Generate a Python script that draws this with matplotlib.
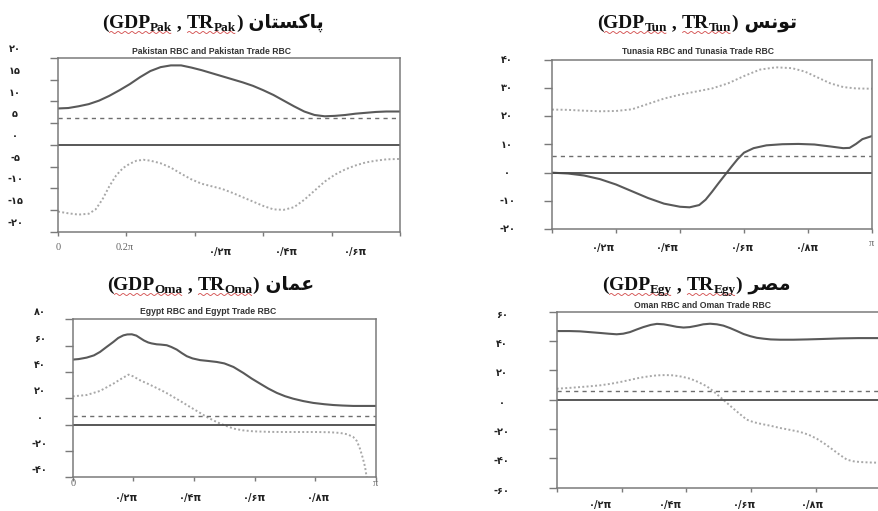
import numpy as np
import matplotlib
matplotlib.use("Agg")
import matplotlib.pyplot as plt
from matplotlib.transforms import IdentityTransform
from matplotlib.lines import Line2D

W, H = 879, 511
PI = np.pi

# --- Pakistan ---------------------------------------------------------------
pak_gdp_x = [0, .03, .06, .09, .12, .15, .18, .21, .24, .27, .30, .33, .36, .39, .42, .45, .48,
             .51, .54, .57, .60, .63, .66, .69, .72, .75, .78, .81, .84, .87, .90, .93, .96, 1.0]
pak_gdp = [8.4, 8.5, 8.9, 9.4, 10.2, 11.3, 12.6, 14.0, 15.6, 17.0, 17.9, 18.3, 18.3, 17.8, 17.2,
           16.5, 15.8, 15.1, 14.4, 13.6, 12.6, 11.5, 10.2, 8.9, 7.7, 6.9, 6.6, 6.7, 6.9, 7.2, 7.4,
           7.6, 7.7, 7.7]
pak_tr_x = [0, .03, .06, .09, .11, .13, .15, .17, .19, .21, .23, .25, .27, .30, .33, .36, .39, .42,
            .45, .48, .51, .54, .57, .60, .63, .66, .69, .72, .75, .78, .81, .84, .87, .90, .93, .96, 1.0]
pak_tr = [-15.3, -15.7, -16.0, -15.8, -14.8, -12.5, -9.5, -7.0, -5.3, -4.3, -3.6, -3.4, -3.6, -4.2,
          -5.2, -6.6, -7.9, -8.9, -9.5, -10.1, -11.0, -12.0, -13.0, -14.0, -14.8, -14.9, -14.3,
          -12.6, -10.5, -8.4, -6.8, -5.6, -4.7, -4.0, -3.6, -3.3, -3.2]
pak_dash = 6.1
pak_yticks = [20, 15, 10, 5, 0, -5, -10, -15, -20]
pak_ylabels = ["۲۰", "۱۵", "۱۰", "۵", "۰", "-۵", "-۱۰", "-۱۵", "-۲۰"]

# --- Tunisia ----------------------------------------------------------------
tun_gdp_x = [0, .05, .10, .15, .20, .25, .30, .35, .40, .43, .46, .48, .50, .52, .54, .56, .58,
             .60, .63, .67, .72, .77, .82, .87, .91, .93, .95, .97, 1.0]
tun_gdp = [0, -0.3, -1.0, -2.3, -4.2, -6.6, -9.0, -11.0, -12.1, -12.3, -11.5, -9.6, -6.8, -3.8,
           -0.9, 2.0, 4.8, 7.1, 8.7, 9.7, 10.1, 10.2, 10.0, 9.3, 8.7, 8.8, 10.2, 11.9, 13.0]
tun_tr_x = [0, .05, .10, .15, .20, .25, .30, .35, .40, .45, .50, .55, .60, .65, .70, .75, .79,
            .83, .87, .91, .95, 1.0]
tun_tr = [22.4, 22.3, 22.0, 21.8, 21.9, 22.5, 24.4, 26.3, 27.7, 28.8, 29.9, 31.7, 34.3, 36.6,
          37.4, 37.1, 35.9, 33.8, 31.7, 30.4, 29.9, 29.8]
tun_dash = 6.0
tun_yticks = [40, 30, 20, 10, 0, -10, -20]
tun_ylabels = ["۴۰", "۳۰", "۲۰", "۱۰", "۰", "-۱۰", "-۲۰"]

# --- Egypt ------------------------------------------------------------------
egy_gdp_x = [0, .02, .046, .07, .09, .11, .134, .15, .167, .18, .195, .21, .222, .235, .249, .26,
             .277, .29, .31, .325, .343, .36, .376, .395, .42, .445, .475, .50, .53, .563, .59,
             .618, .645, .673, .70, .727, .76, .793, .83, .859, .89, .925, .96, 1.0]
egy_gdp = [49.4, 49.8, 50.9, 52.6, 55.2, 58.7, 62.8, 65.8, 67.8, 68.5, 68.6, 67.6, 65.8, 63.9,
           62.4, 61.7, 61.0, 60.8, 60.3, 59.0, 57.0, 54.3, 52.0, 50.3, 49.0, 48.4, 47.6, 46.5,
           43.8, 39.2, 35.0, 31.1, 27.4, 24.1, 21.6, 19.7, 17.9, 16.5, 15.5, 14.9, 14.5, 14.2,
           14.2, 14.2]
egy_tr_x = [0, .046, .09, .134, .16, .184, .20, .222, .25, .277, .305, .332, .36, .387, .415,
            .442, .465, .486, .51, .53, .56, .596, .65, .695, .75, .804, .85, .881, .905, .925,
            .937, .947, .956, .964, .969, .975]
egy_tr = [21.5, 22.5, 25.6, 31.1, 34.8, 38.0, 36.6, 33.7, 30.8, 27.8, 24.6, 21.0, 17.2, 13.4,
          9.6, 5.8, 3.1, 0.8, -1.3, -3.0, -4.3, -5.1, -5.5, -5.6, -5.6, -5.6, -5.8, -6.3, -7.3,
          -9.4, -12.5, -18.2, -25.0, -32.2, -39.7, -44.0]
egy_dash = 6.3
egy_yticks = [80, 60, 40, 20, 0, -20, -40]
egy_ylabels = ["۸۰", "۶۰", "۴۰", "۲۰", "۰", "-۲۰", "-۴۰"]

# --- Oman -------------------------------------------------------------------
oma_gdp_x = [0, .04, .072, .10, .134, .16, .185, .205, .226, .247, .267, .29, .309, .33, .35,
             .37, .391, .41, .432, .452, .473, .494, .514, .535, .556, .576, .597, .617, .638,
             .66, .689, .73, .772, .82, .874, .93, 1.0]
oma_gdp = [46.8, 46.8, 46.6, 46.1, 45.5, 45.0, 44.6, 45.0, 46.1, 47.9, 49.5, 51.0, 51.7, 51.4,
           50.6, 49.7, 49.2, 49.5, 50.4, 51.4, 51.8, 51.4, 50.5, 48.8, 46.8, 44.8, 43.3, 42.2,
           41.6, 41.1, 40.9, 40.9, 41.1, 41.4, 41.8, 42.0, 42.0]
oma_tr_x = [0, .036, .072, .10, .134, .165, .195, .226, .257, .283, .309, .335, .36, .386, .412,
            .437, .463, .484, .504, .525, .545, .566, .586, .607, .628, .66, .689, .72, .751,
            .777, .802, .828, .854, .875, .895, .915, .936, .965, 1.0]
oma_tr = [7.5, 8.0, 8.6, 9.1, 9.8, 10.8, 12.0, 13.5, 15.0, 15.9, 16.6, 16.8, 16.6, 15.7, 14.3,
          12.0, 9.1, 5.6, 1.8, -2.2, -6.1, -10.0, -13.6, -15.3, -16.4, -17.8, -19.3, -20.6, -22.0,
          -23.9, -26.6, -30.3, -34.5, -37.9, -40.9, -42.0, -42.5, -42.8, -43.0]
oma_dash = 5.7
oma_yticks = [60, 40, 20, 0, -20, -40, -60]
oma_ylabels = ["۶۰", "۴۰", "۲۰", "۰", "-۲۰", "-۴۰", "-۶۰"]

fig = plt.figure(figsize=(W / 100, H / 100), dpi=100)
fig.patch.set_facecolor("white")

SPINE = "#7a7a7a"
FA = ["DejaVu Sans"]


def add_axes_px(left, top, right, bottom):
    return fig.add_axes([left / W, 1 - bottom / H, (right - left) / W, (bottom - top) / H])


def draw_panel(ax, gx, gy, tx, ty, dash, ylim, yticks, ylabels, lab_dx, lab_dy):
    ax.plot(np.array(tx) * PI, ty, color="#a8a8a8", lw=1.4, ls=(0, (1, 1.2)))
    ax.plot(np.array(gx) * PI, gy, color="#595959", lw=1.5)
    ax.axhline(dash, color="#6e6e6e", lw=1.0, ls=(0, (3, 3)))
    ax.axhline(0, color="#4a4a4a", lw=1.3)
    ax.set_xlim(0, PI)
    ax.set_ylim(*ylim)
    ax.set_xticks(np.arange(6) * 0.2 * PI, labels=[])
    ax.set_yticks(yticks, labels=[])
    ax.tick_params(axis="y", direction="out", length=6, width=1, color=SPINE)
    ax.tick_params(axis="x", direction="out", length=3, width=1, color=SPINE)
    for s in ax.spines.values():
        s.set_color(SPINE)
        s.set_linewidth(1.1)
    for v, lab in zip(yticks, ylabels):
        ax.annotate(lab, xy=(0, v), xycoords=("axes fraction", "data"),
                    xytext=(-lab_dx, lab_dy), textcoords="offset pixels",
                    ha="center", va="center", fontsize=7, fontweight="bold",
                    color="#222222", family=FA)


def x_labels(ax, fracs, labels, dy, serif=False, color="#222222"):
    for f, lab in zip(fracs, labels):
        ax.annotate(lab, xy=(f * PI, 0), xycoords=("data", "axes fraction"),
                    xytext=(0, -dy), textcoords="offset pixels", ha="center", va="center",
                    fontsize=7.5 if serif else 7, color=color,
                    fontweight="normal" if serif else "bold",
                    family=["Liberation Serif"] if serif else FA)


PERS = ["۰/۲π", "۰/۴π", "۰/۶π", "۰/۸π"]

# top left
ax1 = add_axes_px(58, 58, 400, 232)
draw_panel(ax1, pak_gdp_x, pak_gdp, pak_tr_x, pak_tr, pak_dash, (-20, 20),
           pak_yticks, pak_ylabels, 43, 9)
x_labels(ax1, [0, 0.196], ["0", "0.2π"], 15, serif=True, color="#666666")
x_labels(ax1, [0.474, 0.667, 0.871], [PERS[0], PERS[1], PERS[2]], 20)

# top right
ax2 = add_axes_px(552, 60, 872, 229)
draw_panel(ax2, tun_gdp_x, tun_gdp, tun_tr_x, tun_tr, tun_dash, (-20, 40),
           tun_yticks, tun_ylabels, 45, 0)
x_labels(ax2, [1.0], ["π"], 14, serif=True, color="#666666")
x_labels(ax2, [0.16, 0.36, 0.594, 0.80], PERS, 19)

# bottom left
ax3 = add_axes_px(72.7, 319.3, 376, 477.3)
draw_panel(ax3, egy_gdp_x, egy_gdp, egy_tr_x, egy_tr, egy_dash, (-40, 80),
           egy_yticks, egy_ylabels, 33, 7)
x_labels(ax3, [0, 1.0], ["0", "π"], 6, serif=True, color="#666666")
x_labels(ax3, [0.179, 0.387, 0.601, 0.809], PERS, 21)

# bottom right, its right edge runs off the page
ax4 = add_axes_px(556.7, 311.7, 881, 487.7)
draw_panel(ax4, oma_gdp_x, oma_gdp, oma_tr_x, oma_tr, oma_dash, (-60, 60),
           oma_yticks, oma_ylabels, 55, -3)
x_labels(ax4, [0.134, 0.35, 0.58, 0.79], PERS, 17)

# small chart titles
for x, y, s in [(212, 52, "Pakistan RBC and Pakistan Trade RBC"),
                (698, 52, "Tunasia RBC and Tunasia Trade RBC"),
                (208, 312, "Egypt RBC and Egypt Trade RBC"),
                (703, 305, "Oman RBC and Oman Trade RBC")]:
    fig.text(x / W, 1 - y / H, s, ha="center", va="center", fontsize=6.2,
             fontweight="bold", color="#333333", family=["Liberation Sans"])

# big headings: "(GDP_xx , TR_xx) <country>" built piece by piece
renderer = fig.canvas.get_renderer()


def heading(x0, base, code, word):
    serif = ["Liberation Serif"]
    pieces = [("(", 14, 0, serif), ("GDP", 14, 0, serif), (code, 9.5, -2.5, serif),
              (" , ", 14, 0, serif), ("TR", 14, 0, serif), (code, 9.5, -2.5, serif),
              (")", 14, 0, serif), (" " + word, 13.5, 0, FA)]
    x = x0
    boxes = []
    for s, size, dy, fam in pieces:
        t = fig.text(x, H - base + dy, s, transform=IdentityTransform(), ha="left",
                     va="baseline", fontsize=size, fontweight="bold", family=fam,
                     color="#111111")
        bb = t.get_window_extent(renderer)
        boxes.append(bb)
        x = bb.x1
    # spell-check squiggles under the two variable names
    for a, b in [(1, 2), (4, 5)]:
        xs = np.linspace(boxes[a].x0 + 1, boxes[b].x1 - 1, 80)
        ys = (H - base - 4.5) + 1.0 * np.sin((xs - xs[0]) / 1.1)
        fig.add_artist(Line2D(xs, ys, transform=IdentityTransform(), color="#d24a4a", lw=0.6))


heading(102, 28, "Pak", "\uFEE5\uFE8E\uFE98\uFEB4\uFB90\uFE8E\uFB58")
heading(597, 28, "Tun", "\uFEB2\uFEE7\uFEEE\uFE97")
heading(107, 290, "Oma", "\uFEE5\uFE8E\uFEE4\uFECB")
heading(602, 290, "Egy", "\uFEAE\uFEBC\uFEE3")

fig.savefig("out.png", dpi=100)
